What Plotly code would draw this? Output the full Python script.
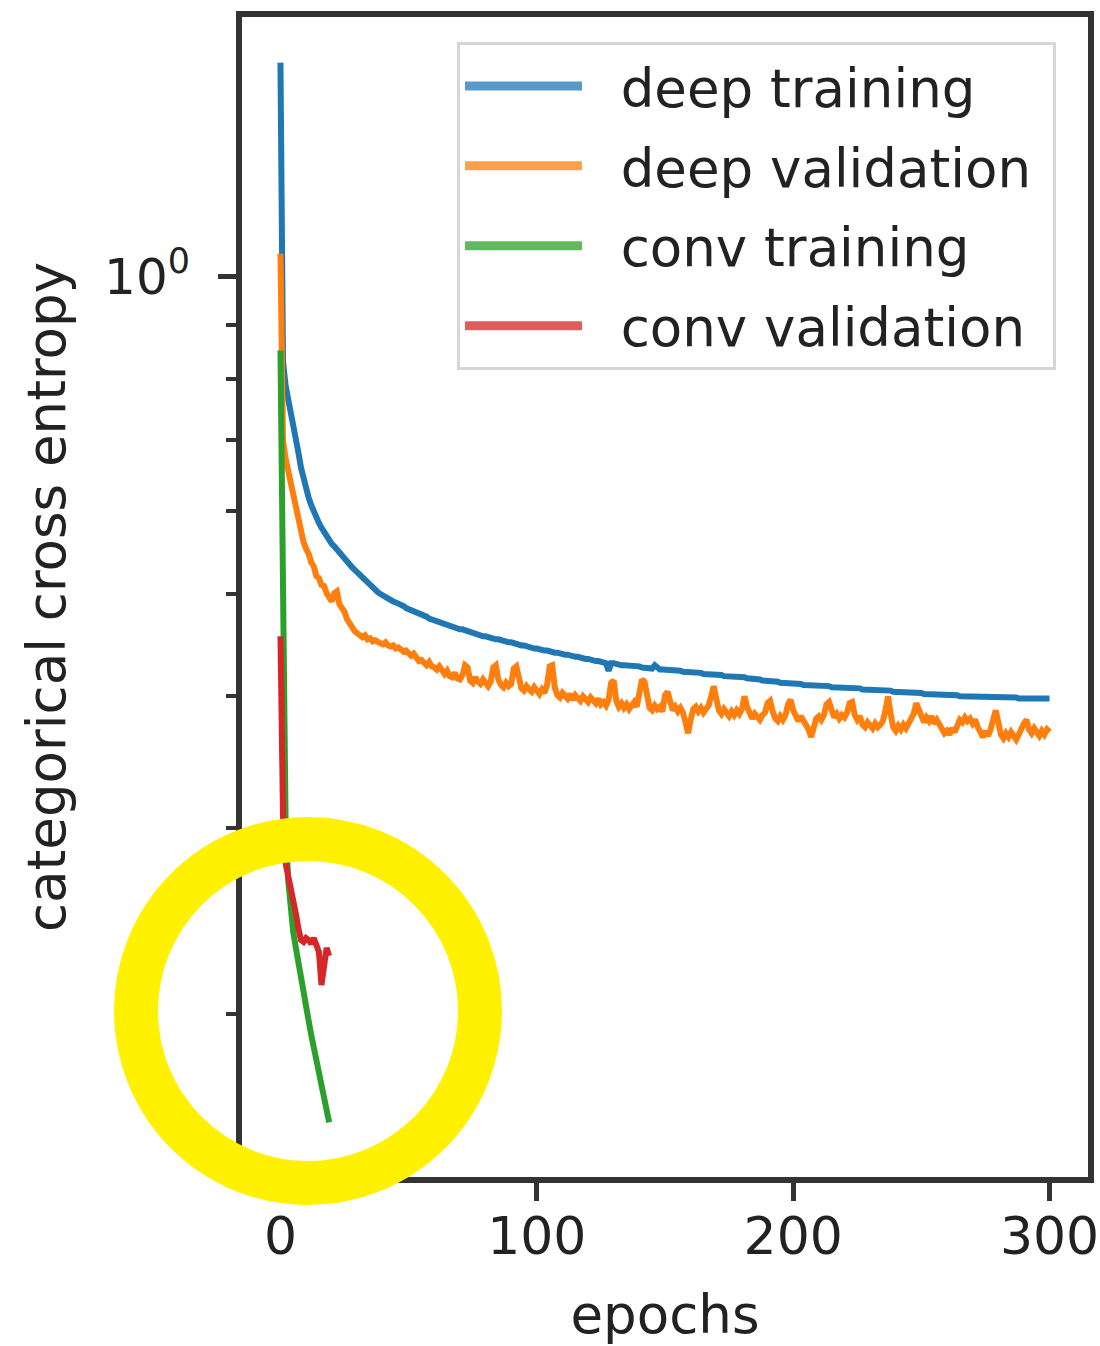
import plotly.graph_objects as go

# ---------------- data ----------------
deep_train = [
    1.595, 0.831, 0.788, 0.766, 0.750, 0.730, 0.707, 0.681, 0.659, 0.642,
    0.628, 0.617, 0.607, 0.598, 0.591, 0.584, 0.578, 0.572, 0.566, 0.562,
    0.558, 0.555, 0.551, 0.548, 0.544, 0.540, 0.537, 0.533, 0.530, 0.527,
    0.524, 0.521, 0.519, 0.516, 0.512, 0.509, 0.507, 0.504, 0.502, 0.500,
    0.498, 0.497, 0.495, 0.494, 0.492, 0.491, 0.490, 0.488, 0.487, 0.485,
    0.484, 0.483, 0.482, 0.480, 0.479, 0.478, 0.477, 0.476, 0.474, 0.473,
    0.472, 0.471, 0.470, 0.469, 0.468, 0.467, 0.466, 0.466, 0.465, 0.464,
    0.463, 0.463, 0.462, 0.461, 0.460, 0.459, 0.459, 0.458, 0.457, 0.456,
    0.456, 0.455, 0.455, 0.454, 0.453, 0.453, 0.452, 0.452, 0.451, 0.450,
    0.450, 0.449, 0.449, 0.448, 0.447, 0.447, 0.446, 0.446, 0.445, 0.444,
    0.444, 0.443, 0.443, 0.442, 0.442, 0.441, 0.441, 0.440, 0.440, 0.439,
    0.439, 0.438, 0.438, 0.437, 0.437, 0.436, 0.436, 0.435, 0.435, 0.434,
    0.434, 0.433, 0.433, 0.432, 0.432, 0.431, 0.431, 0.430, 0.423, 0.430,
    0.430, 0.429, 0.429, 0.428, 0.428, 0.428, 0.427, 0.427, 0.427, 0.427,
    0.427, 0.426, 0.426, 0.426, 0.425, 0.425, 0.428, 0.425, 0.424, 0.424,
    0.424, 0.424, 0.423, 0.423, 0.423, 0.423, 0.423, 0.422, 0.422, 0.422,
    0.422, 0.422, 0.421, 0.421, 0.421, 0.420, 0.420, 0.420, 0.420, 0.419,
    0.419, 0.419, 0.419, 0.418, 0.418, 0.418, 0.418, 0.418, 0.417, 0.417,
    0.417, 0.417, 0.416, 0.416, 0.416, 0.415, 0.415, 0.415, 0.414, 0.414,
    0.414, 0.413, 0.413, 0.413, 0.413, 0.412, 0.412, 0.412, 0.412, 0.411,
    0.411, 0.411, 0.411, 0.411, 0.410, 0.410, 0.410, 0.410, 0.410, 0.409,
    0.409, 0.409, 0.409, 0.409, 0.409, 0.408, 0.408, 0.408, 0.408, 0.408,
    0.408, 0.407, 0.407, 0.407, 0.407, 0.407, 0.407, 0.406, 0.406, 0.406,
    0.406, 0.406, 0.406, 0.405, 0.405, 0.405, 0.405, 0.405, 0.405, 0.404,
    0.404, 0.404, 0.404, 0.404, 0.404, 0.403, 0.403, 0.403, 0.403, 0.403,
    0.403, 0.402, 0.402, 0.402, 0.402, 0.402, 0.402, 0.401, 0.401, 0.401,
    0.401, 0.401, 0.401, 0.401, 0.401, 0.400, 0.400, 0.400, 0.400, 0.400,
    0.400, 0.400, 0.400, 0.400, 0.400, 0.400, 0.399, 0.399, 0.399, 0.399,
    0.399, 0.399, 0.399, 0.399, 0.399, 0.399, 0.399, 0.399, 0.398, 0.398,
    0.398, 0.398, 0.398, 0.398, 0.398, 0.398, 0.398, 0.398, 0.398, 0.398,
    0.398,
]

deep_val = [
    1.051, 0.699, 0.672, 0.655, 0.638, 0.620, 0.607, 0.590, 0.572, 0.560,
    0.552, 0.546, 0.536, 0.531, 0.520, 0.518, 0.510, 0.509, 0.501, 0.497,
    0.492, 0.501, 0.503, 0.489, 0.485, 0.481, 0.473, 0.468, 0.465, 0.461,
    0.459, 0.457, 0.455, 0.457, 0.453, 0.454, 0.451, 0.452, 0.450, 0.449,
    0.448, 0.450, 0.447, 0.446, 0.447, 0.444, 0.445, 0.443, 0.441, 0.442,
    0.440, 0.437, 0.439, 0.434, 0.432, 0.433, 0.430, 0.428, 0.431, 0.427,
    0.426, 0.424, 0.427, 0.422, 0.420, 0.423, 0.418, 0.417, 0.421, 0.416,
    0.415, 0.419, 0.428, 0.426, 0.414, 0.412, 0.417, 0.413, 0.411, 0.415,
    0.412, 0.409, 0.413, 0.426, 0.428, 0.415, 0.410, 0.408, 0.412, 0.409,
    0.411, 0.425, 0.427, 0.413, 0.407, 0.405, 0.409, 0.406, 0.404, 0.408,
    0.405, 0.402, 0.406, 0.403, 0.410, 0.427, 0.428, 0.408, 0.401, 0.399,
    0.403, 0.400, 0.398, 0.402, 0.397, 0.401, 0.399, 0.396, 0.400, 0.398,
    0.395, 0.399, 0.396, 0.394, 0.398, 0.393, 0.395, 0.392, 0.397, 0.412,
    0.414, 0.396, 0.391, 0.394, 0.390, 0.393, 0.389, 0.392, 0.395, 0.391,
    0.404, 0.415, 0.413, 0.398, 0.390, 0.388, 0.392, 0.389, 0.391, 0.387,
    0.401, 0.404, 0.393, 0.388, 0.391, 0.387, 0.390, 0.386, 0.378, 0.369,
    0.380, 0.389, 0.391, 0.387, 0.390, 0.386, 0.389, 0.392, 0.400, 0.409,
    0.398, 0.388, 0.385, 0.389, 0.386, 0.383, 0.387, 0.384, 0.388, 0.385,
    0.389, 0.400, 0.391, 0.384, 0.381, 0.385, 0.382, 0.380, 0.384, 0.386,
    0.394, 0.396, 0.387, 0.381, 0.379, 0.383, 0.380, 0.384, 0.393, 0.397,
    0.388, 0.382, 0.379, 0.383, 0.380, 0.377, 0.372, 0.366, 0.376, 0.381,
    0.383, 0.380, 0.384, 0.393, 0.395, 0.387, 0.382, 0.385, 0.381, 0.384,
    0.382, 0.386, 0.394, 0.395, 0.384, 0.380, 0.383, 0.376, 0.374, 0.378,
    0.375, 0.373, 0.377, 0.374, 0.376, 0.379, 0.388, 0.400, 0.385, 0.374,
    0.371, 0.375, 0.372, 0.376, 0.373, 0.377, 0.380, 0.385, 0.394, 0.389,
    0.381, 0.378, 0.382, 0.379, 0.383, 0.377, 0.380, 0.376, 0.372, 0.369,
    0.371, 0.368, 0.373, 0.370, 0.375, 0.380, 0.378, 0.382, 0.379, 0.381,
    0.377, 0.380, 0.374, 0.369, 0.366, 0.371, 0.367, 0.372, 0.382, 0.388,
    0.378, 0.368, 0.365, 0.369, 0.366, 0.370, 0.367, 0.364, 0.368, 0.374,
    0.377, 0.380, 0.372, 0.369, 0.373, 0.370, 0.367, 0.371, 0.368, 0.372,
    0.370,
]

conv_train = [
    0.851, 0.414, 0.305, 0.268, 0.248, 0.239, 0.231, 0.223, 0.216, 0.210,
    0.203, 0.197, 0.191, 0.186, 0.181, 0.176, 0.1714, 0.1670, 0.1627, 0.1578,
]

conv_val = [
    0.456, 0.308, 0.278, 0.271, 0.263, 0.257, 0.249, 0.241, 0.235, 0.234,
    0.236, 0.235, 0.233, 0.236, 0.233, 0.229, 0.213, 0.224, 0.231, 0.227,
]

series_names = ["deep training", "deep validation", "conv training", "conv validation"]
series_values = [deep_train, deep_val, conv_train, conv_val]
series_colors = ["#1f77b4", "#ff7f0e", "#2ca02c", "#d62728"]

x_tick_vals = [0, 100, 200, 300]
y_major_vals = [1.0]
y_major_text = ["10<sup>0</sup>"]
y_minor_vals = [0.2, 0.3, 0.4, 0.5, 0.6, 0.7, 0.8, 0.9]

# ---------------- layout geometry ----------------
W, H = 1100, 1346
L, R, T, B = 242, 1088, 17, 1177
FONT = "DejaVu Sans"
AX = "#333333"
TXT = "#222222"


def px_x(p):
    return (p - L) / (R - L)


def px_y(p):
    return (B - p) / (B - T)


fig = go.Figure()

for name, vals, col in zip(series_names, series_values, series_colors):
    fig.add_trace(go.Scatter(
        x=list(range(len(vals))), y=vals, mode="lines", name=name,
        line=dict(color=col, width=6), showlegend=False, hoverinfo="skip",
    ))

# legend handles (slightly transparent, as in the reference)
for name, col in zip(series_names, series_colors):
    fig.add_trace(go.Scatter(
        x=[None], y=[None], mode="lines", name="\u00a0\u00a0" + name + "\u00a0",
        legendgroup=name,
        line=dict(color=col, width=9), opacity=0.75, showlegend=True,
    ))

fig.update_layout(
    width=W, height=H,
    margin=dict(l=L, r=W - R, t=T, b=H - B, autoexpand=False),
    paper_bgcolor="white", plot_bgcolor="white",
    font=dict(family=FONT, size=52, color=TXT),
    showlegend=True,
    legend=dict(
        x=px_x(457), y=px_y(42), xanchor="left", yanchor="top",
        bgcolor="white", bordercolor="#d6d6d6", borderwidth=3,
        font=dict(family=FONT, size=53, color=TXT),
        itemwidth=117, tracegroupgap=8,
    ),
    xaxis=dict(
        range=[-15, 315], tickmode="array", tickvals=x_tick_vals,
        ticks="outside", ticklen=18, tickwidth=5, tickcolor=AX,
        ticklabelstandoff=-9,
        showline=True, linewidth=6, linecolor=AX, mirror=True,
        showgrid=False, zeroline=False,
        tickfont=dict(family=FONT, size=52, color=TXT),
        title=dict(text="epochs", font=dict(family=FONT, size=53, color=TXT), standoff=32),
    ),
    yaxis=dict(
        type="log", range=[-0.8536, 0.246],
        tickmode="array", tickvals=y_major_vals, ticktext=y_major_text,
        ticks="outside", ticklen=18, tickwidth=5, tickcolor=AX,
        ticklabelstandoff=18,
        minor=dict(tickmode="array", tickvals=y_minor_vals, ticks="outside",
                   ticklen=10, tickwidth=4, tickcolor=AX, showgrid=False),
        showline=True, linewidth=6, linecolor=AX, mirror=True,
        showgrid=False, zeroline=False,
        tickfont=dict(family=FONT, size=50, color=TXT),
        title=dict(text="categorical cross entropy",
                   font=dict(family=FONT, size=53, color=TXT), standoff=24),
    ),
)

# yellow highlight ring drawn over the chart
cx, cy, rr = 308, 1011, 172
fig.add_shape(
    type="circle", xref="paper", yref="paper",
    x0=px_x(cx - rr), x1=px_x(cx + rr), y0=px_y(cy + rr), y1=px_y(cy - rr),
    line=dict(color="#FFF100", width=44), fillcolor="rgba(0,0,0,0)", layer="above",
)

fig.write_html("out.html", config={"displayModeBar": False},
               post_script="document.body.style.margin='0px';")
